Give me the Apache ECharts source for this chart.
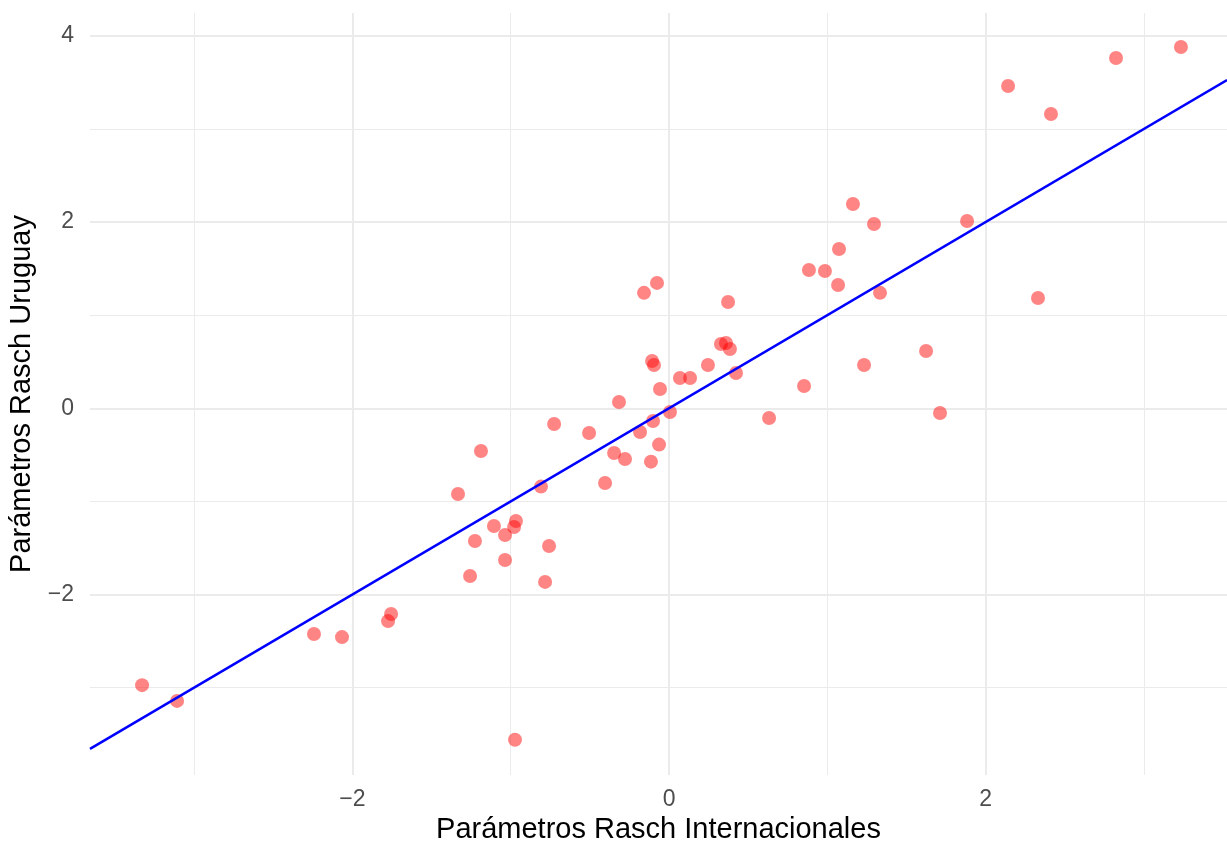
<!DOCTYPE html>
<html>
<head>
<meta charset="utf-8">
<script src="https://cdn.jsdelivr.net/npm/echarts@6/dist/echarts.min.js"></script>
<style>
html,body{margin:0;padding:0;background:#fff}
#main{width:1227px;height:845px}
</style>
</head>
<body>
<div id="main"></div>
<script>
// parametros Rasch: internacionales (x) vs Uruguay (y)
var xIntl = [-3.329, -3.108, -2.243, -2.066, -1.775, -1.756, -1.333, -1.226, -1.257, -1.188,
             -1.106, -1.036, -1.036, -0.979, -0.967, -0.973, -0.809, -0.783, -0.758, -0.726,
             -0.505, -0.404, -0.347, -0.316, -0.278, -0.183, -0.158, -0.114, -0.107, -0.101,
             -0.095, -0.076, -0.063, -0.057, 0.006, 0.069, 0.133, 0.246, 0.328, 0.360,
             0.373, 0.385, 0.423, 0.632, 0.853, 0.884, 0.985, 1.068, 1.074, 1.162,
             1.232, 1.295, 1.333, 1.624, 1.712, 1.883, 2.142, 2.331, 2.413, 2.824, 3.234];
var yUru  = [-2.974, -3.143, -2.425, -2.458, -2.286, -2.210, -0.920, -1.425, -1.801, -0.458,
             -1.264, -1.361, -1.630, -1.275, -1.210, -3.561, -0.841, -1.865, -1.479, -0.169,
             -0.266, -0.803, -0.480, 0.068, -0.544, -0.255, 1.240, -0.573, 0.508, -0.136,
             0.465, 1.347, -0.390, 0.207, -0.040, 0.326, 0.326, 0.465, 0.691, 0.701,
             1.142, 0.637, 0.379, -0.104, 0.240, 1.486, 1.475, 1.324, 1.711, 2.195,
             0.465, 1.980, 1.240, 0.616, -0.050, 2.012, 3.462, 1.185, 3.161, 3.763, 3.881];

var xMajor = [-2, 0, 2];
var xMinor = [-3, -1, 1, 3];
var yMajor = [-2, 0, 2, 4];
var yMinor = [-3, -1, 1, 3];

// recta de referencia y = x
var refLine = {slope: 1, intercept: 0};
var xRange = [-3.658, 3.525];
var yRange = [-3.939, 4.246];

var puntos = xIntl.map(function (x, i) { return [x, yUru[i]]; });
var recta = xRange.map(function (x) { return [x, refLine.intercept + refLine.slope * x]; });

function fmt(v) {
    return v < 0 ? '\u2212' + Math.abs(v) : String(v);
}

var fuente = '"Liberation Sans", Arial, sans-serif';

var chart = echarts.init(document.getElementById('main'));
chart.setOption({
    animation: false,
    backgroundColor: '#fff',
    grid: {left: 90, right: 0, top: 13, bottom: 70, containLabel: false, outerBoundsMode: 'none'},
    xAxis: [
        {   // lineas menores
            type: 'value', min: xRange[0], max: xRange[1], position: 'bottom',
            axisLine: {show: false},
            axisTick: {show: false, customValues: xMinor},
            axisLabel: {show: false},
            splitLine: {show: true, lineStyle: {color: '#EBEBEB', width: 1}}
        },
        {   // lineas mayores + etiquetas
            type: 'value', min: xRange[0], max: xRange[1], position: 'bottom',
            axisLine: {show: false},
            axisTick: {show: false, customValues: xMajor},
            axisLabel: {customValues: xMajor, formatter: fmt, margin: 13,
                        color: '#4D4D4D', fontSize: 23, fontFamily: fuente},
            splitLine: {show: true, lineStyle: {color: '#EBEBEB', width: 2}},
            name: 'Parámetros Rasch Internacionales',
            nameLocation: 'middle',
            nameGap: 40,
            nameTextStyle: {color: '#000', fontSize: 29, fontFamily: fuente}
        }
    ],
    yAxis: [
        {
            type: 'value', min: yRange[0], max: yRange[1], position: 'left',
            axisLine: {show: false},
            axisTick: {show: false, customValues: yMinor},
            axisLabel: {show: false},
            splitLine: {show: true, lineStyle: {color: '#EBEBEB', width: 1}}
        },
        {
            type: 'value', min: yRange[0], max: yRange[1], position: 'left',
            axisLine: {show: false},
            axisTick: {show: false, customValues: yMajor},
            axisLabel: {customValues: yMajor, formatter: fmt, margin: 16,
                        color: '#4D4D4D', fontSize: 23, fontFamily: fuente},
            splitLine: {show: true, lineStyle: {color: '#EBEBEB', width: 2}},
            name: 'Parámetros Rasch Uruguay',
            nameLocation: 'middle',
            nameGap: 51,
            nameTextStyle: {color: '#000', fontSize: 29, fontFamily: fuente}
        }
    ],
    series: [
        {
            type: 'scatter',
            xAxisIndex: 1, yAxisIndex: 1,
            data: puntos,
            symbolSize: 14,
            itemStyle: {color: 'rgba(255,0,0,0.6)'},
            z: 2
        },
        {
            type: 'line',
            xAxisIndex: 1, yAxisIndex: 1,
            data: recta,
            showSymbol: false,
            lineStyle: {color: '#0000FF', width: 2.5},
            z: 3
        }
    ]
});
</script>
</body>
</html>
